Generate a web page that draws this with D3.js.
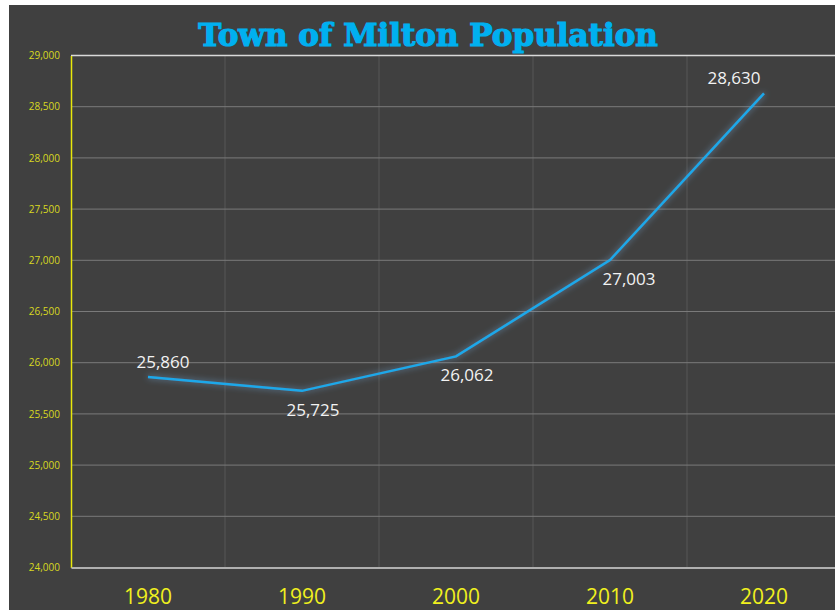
<!DOCTYPE html>
<html>
<head>
<meta charset="utf-8">
<script src="https://cdnjs.cloudflare.com/ajax/libs/d3/7.8.5/d3.min.js"></script>
<style>
  body { margin: 0; background: #fff; overflow: hidden; }
</style>
</head>
<body>
<div id="chart"></div>
<script>
// data
var years = ["1980", "1990", "2000", "2010", "2020"];
var population = [25860, 25725, 26062, 27003, 28630];
var yTicks = [24000, 24500, 25000, 25500, 26000, 26500, 27000, 27500, 28000, 28500, 29000];
// where each data label sits relative to its point
var labelSide = ["above", "below", "below", "below", "above"];
var labelShift = [15, 11, 11, 19, -30];

var W = 835, H = 610;
var margin = {top: 55.5, left: 71, bottom: 42.5};
var plotW = 770, plotH = H - margin.top - margin.bottom;

var svg = d3.select("#chart").append("svg")
  .attr("width", W).attr("height", H);

// chart background
svg.append("rect")
  .attr("x", 9).attr("y", 5)
  .attr("width", W - 9).attr("height", H - 5)
  .attr("fill", "#404040");

var defs = svg.append("defs");
var glow = defs.append("filter").attr("id", "glow")
  .attr("x", "-10%").attr("y", "-10%").attr("width", "120%").attr("height", "120%");
glow.append("feGaussianBlur").attr("in", "SourceGraphic").attr("stdDeviation", 3).attr("result", "blur");
glow.append("feColorMatrix").attr("in", "blur").attr("type", "matrix")
  .attr("values", "0 0 0 0 0.15  0 0 0 0 0.35  0 0 0 0 0.6  0 0 0 0.8 0").attr("result", "shade");
var merge = glow.append("feMerge");
merge.append("feMergeNode").attr("in", "shade");
merge.append("feMergeNode").attr("in", "SourceGraphic");

var g = svg.append("g")
  .attr("transform", "translate(" + margin.left + "," + margin.top + ")");

var x = d3.scaleBand().domain(years).range([0, plotW]);
var y = d3.scaleLinear().domain([24000, 29000]).range([plotH, 0]);

// vertical gridlines at band edges
g.selectAll(".vgrid")
  .data(years.slice(1))
  .enter().append("line")
  .attr("x1", function(d) { return x(d); })
  .attr("x2", function(d) { return x(d); })
  .attr("y1", 0).attr("y2", plotH)
  .attr("stroke", "#565656").attr("stroke-width", 1);

// horizontal gridlines
g.selectAll(".hgrid")
  .data(yTicks.slice(1, -1))
  .enter().append("line")
  .attr("x1", 0).attr("x2", plotW)
  .attr("y1", function(d) { return y(d); })
  .attr("y2", function(d) { return y(d); })
  .attr("stroke", "#7a7a7a").attr("stroke-width", 1);

// top border
g.append("line")
  .attr("x1", 0).attr("x2", plotW).attr("y1", 0).attr("y2", 0)
  .attr("stroke", "#d9d9d9").attr("stroke-width", 1.5);

// y axis
var yAxis = g.append("g")
  .call(d3.axisLeft(y).tickValues(yTicks).tickSize(0).tickPadding(11).tickFormat(d3.format(",")));
yAxis.select(".domain").attr("stroke", "#e8e80a").attr("stroke-width", 1.5);
yAxis.selectAll("text")
  .attr("fill", "#d8d820")
  .style("font-family", "'Open Sans', sans-serif")
  .style("font-size", "10px");

// x axis
var xAxis = g.append("g")
  .attr("transform", "translate(0," + plotH + ")")
  .call(d3.axisBottom(x).tickSize(0).tickPadding(22));
xAxis.select(".domain").attr("stroke", "#b0b0b0").attr("stroke-width", 2);
xAxis.selectAll("text")
  .attr("fill", "#f0f01e")
  .style("font-family", "'Open Sans', sans-serif")
  .style("font-size", "21px");

// line
var line = d3.line()
  .x(function(d, i) { return x(years[i]) + x.bandwidth() / 2; })
  .y(function(d) { return y(d); });

g.append("path")
  .datum(population)
  .attr("d", line)
  .attr("fill", "none")
  .attr("stroke", "#1aa8ea")
  .attr("stroke-width", 2.5)
  .attr("filter", "url(#glow)");

// data labels
g.selectAll(".lbl")
  .data(population)
  .enter().append("text")
  .attr("x", function(d, i) { return x(years[i]) + x.bandwidth() / 2 + labelShift[i]; })
  .attr("y", function(d, i) { return y(d) + (labelSide[i] == "above" ? -9 : 25); })
  .attr("text-anchor", "middle")
  .attr("fill", "#f2f2f2")
  .style("font-family", "'Open Sans', sans-serif")
  .style("font-size", "17px")
  .text(function(d) { return d3.format(",")(d); });

// title
svg.append("text")
  .attr("x", 428).attr("y", 46)
  .attr("text-anchor", "middle")
  .attr("fill", "#00b0f0")
  .attr("stroke", "#00b0f0")
  .attr("stroke-width", 1.2)
  .style("font-family", "'DejaVu Serif', serif")
  .style("font-weight", "bold")
  .style("font-size", "31px")
  .text("Town of Milton Population");
</script>
</body>
</html>
